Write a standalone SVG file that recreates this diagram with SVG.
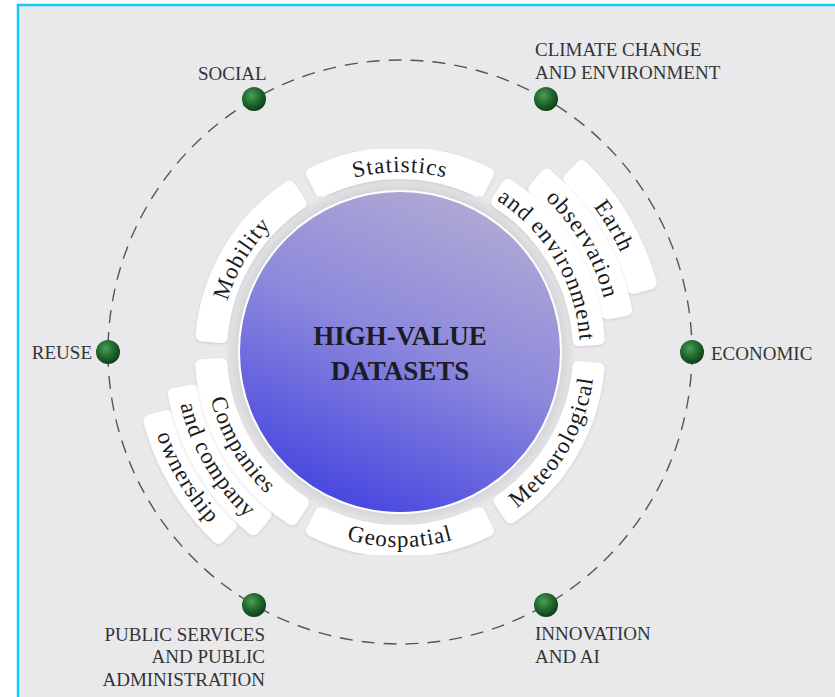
<svg xmlns="http://www.w3.org/2000/svg" width="835" height="697" viewBox="0 0 835 697">
<defs>
<linearGradient id="core" x1="0.68" y1="0.03" x2="0.28" y2="0.97">
<stop offset="0" stop-color="#aea8d4"/>
<stop offset="0.45" stop-color="#8d89dc"/>
<stop offset="1" stop-color="#4646e0"/>
</linearGradient>
<radialGradient id="ring" gradientUnits="userSpaceOnUse" cx="400" cy="352" r="174">
<stop offset="0.9" stop-color="#cfcfd4"/>
<stop offset="1" stop-color="#e6e6e8"/>
</radialGradient>
<radialGradient id="dot" cx="0.4" cy="0.35" r="0.65">
<stop offset="0" stop-color="#4f9d5a"/>
<stop offset="0.5" stop-color="#236f31"/>
<stop offset="1" stop-color="#0f3f19"/>
</radialGradient>
<filter id="sh" x="-10%" y="-10%" width="120%" height="120%">
<feDropShadow dx="0" dy="1" stdDeviation="1.5" flood-color="#000" flood-opacity="0.13"/>
</filter>
<path id="tpStat" d="M244.1,262 A180,180 0 0 1 555.9,262"/>
<path id="tpMob" d="M243.3,440.6 A180,180 0 0 1 401.6,172"/>
<path id="tpEnv" d="M398.4,172 A180,180 0 0 1 556.7,440.6"/>
<path id="tpObs" d="M398.2,141 A211,211 0 0 1 583.7,455.9"/>
<path id="tpEarth" d="M397.9,110 A242,242 0 0 1 610.6,471.2"/>
<path id="tpMet" d="M398.3,547 A195,195 0 0 0 569.7,256"/>
<path id="tpGeo" d="M231.1,449.5 A195,195 0 0 0 568.9,449.5"/>
<path id="tpComp" d="M230.3,256 A195,195 0 0 0 401.7,547"/>
<path id="tpAndC" d="M203.3,240.7 A226,226 0 0 0 402,578"/>
<path id="tpOwn" d="M176.3,225.5 A257,257 0 0 0 402.2,609"/>
</defs>
<style>
.band{fill:#ffffff;stroke:#ffffff;stroke-width:12;stroke-linejoin:round;filter:url(#sh)}
.bt{font-family:"Liberation Serif","Times New Roman",serif;font-size:23px;fill:#1b1b1b;letter-spacing:1px}
.lbl{font-family:"Liberation Serif","Times New Roman",serif;font-size:19px;fill:#343434}
.dot{fill:url(#dot)}
.conn{fill:none;stroke:#555555;stroke-width:1.4;stroke-dasharray:13 9}
</style>
<rect x="0" y="0" width="835" height="697" fill="#ffffff"/>
<rect x="18" y="5" width="817" height="692" fill="#e9e9eb"/>
<line x1="16.8" y1="5" x2="835" y2="5" stroke="#1ac8f4" stroke-width="2.5"/>
<line x1="18" y1="4" x2="18" y2="697" stroke="#1ac8f4" stroke-width="2.5"/>

<g id="connectors">
<circle class="conn" cx="400" cy="352" r="292"/>
</g>

<g id="core-node">
<circle cx="400" cy="352" r="173" fill="url(#ring)"/>
<circle cx="400" cy="352" r="161" fill="url(#core)" stroke="#ffffff" stroke-width="2"/>
<text x="400" y="345" text-anchor="middle" font-family="Liberation Serif, serif" font-weight="bold" font-size="27" fill="#1c1c28">HIGH-VALUE</text>
<text x="400" y="380" text-anchor="middle" font-family="Liberation Serif, serif" font-weight="bold" font-size="27" fill="#1c1c28">DATASETS</text>
</g>

<g id="band-statistics">
<path class="band" d="M312.2,173.4 A199,199 0 0 1 487.8,173.4 L479,191.4 A179,179 0 0 0 321,191.4 Z"/>
<text class="bt"><textPath href="#tpStat" startOffset="50%" text-anchor="middle">Statistics</textPath></text>
</g>
<g id="band-mobility">
<path class="band" d="M201.7,335.3 A199,199 0 0 1 289.2,186.7 L300.4,203.3 A179,179 0 0 0 221.6,337 Z"/>
<text class="bt"><textPath href="#tpMob" startOffset="50%" text-anchor="middle">Mobility</textPath></text>
</g>
<g id="band-earth">
<path class="band" d="M581.8,166.2 A260,260 0 0 1 650.7,283.1 L633.3,287.9 A242,242 0 0 0 569.2,179 Z"/>
<path class="band" d="M546.5,174.7 A230,230 0 0 1 626.1,309.9 L607.4,313.3 A211,211 0 0 0 534.4,189.3 Z"/>
<path class="band" d="M507.9,184.8 A199,199 0 0 1 598.6,338.7 L578.6,340.1 A179,179 0 0 0 497,201.6 Z"/>
<text class="bt"><textPath href="#tpEarth" startOffset="50%" text-anchor="middle">Earth</textPath></text>
<text class="bt"><textPath href="#tpObs" startOffset="50%" text-anchor="middle">observation</textPath></text>
<text class="bt"><textPath href="#tpEnv" startOffset="50%" text-anchor="middle">and environment</textPath></text>
</g>
<g id="band-meteorological">
<path class="band" d="M598.3,368.7 A199,199 0 0 1 510.8,517.3 L499.6,500.7 A179,179 0 0 0 578.4,367 Z"/>
<text class="bt"><textPath href="#tpMet" startOffset="50%" text-anchor="middle">Meteorological</textPath></text>
</g>
<g id="band-geospatial">
<path class="band" d="M487.8,530.6 A199,199 0 0 1 312.2,530.6 L321,512.6 A179,179 0 0 0 479,512.6 Z"/>
<text class="bt"><textPath href="#tpGeo" startOffset="50%" text-anchor="middle">Geospatial</textPath></text>
</g>
<g id="band-companies">
<path class="band" d="M218.2,537.8 A260,260 0 0 1 149.3,420.9 L166.7,416.1 A242,242 0 0 0 230.8,525 Z"/>
<path class="band" d="M253.5,529.3 A230,230 0 0 1 173.9,394.1 L192.6,390.7 A211,211 0 0 0 265.6,514.7 Z"/>
<path class="band" d="M292.1,519.2 A199,199 0 0 1 201.4,365.3 L221.4,363.9 A179,179 0 0 0 303,502.4 Z"/>
<text class="bt"><textPath href="#tpComp" startOffset="50%" text-anchor="middle">Companies</textPath></text>
<text class="bt"><textPath href="#tpAndC" startOffset="50%" text-anchor="middle">and company</textPath></text>
<text class="bt"><textPath href="#tpOwn" startOffset="50%" text-anchor="middle">ownership</textPath></text>
</g>

<g id="node-social">
<circle class="dot" cx="254" cy="99.1" r="12"/>
<text class="lbl" x="198" y="80">SOCIAL</text>
</g>
<g id="node-climate">
<circle class="dot" cx="546" cy="99.1" r="12"/>
<text class="lbl" x="535" y="56">CLIMATE CHANGE</text>
<text class="lbl" x="535" y="79">AND ENVIRONMENT</text>
</g>
<g id="node-reuse">
<circle class="dot" cx="108" cy="352" r="12"/>
<text class="lbl" x="92" y="359" text-anchor="end">REUSE</text>
</g>
<g id="node-economic">
<circle class="dot" cx="692" cy="352" r="12"/>
<text class="lbl" x="711" y="360">ECONOMIC</text>
</g>
<g id="node-public">
<circle class="dot" cx="254" cy="604.9" r="12"/>
<text class="lbl" x="265" y="641" text-anchor="end">PUBLIC SERVICES</text>
<text class="lbl" x="265" y="663" text-anchor="end">AND PUBLIC</text>
<text class="lbl" x="265" y="686" text-anchor="end">ADMINISTRATION</text>
</g>
<g id="node-innovation">
<circle class="dot" cx="546" cy="604.9" r="12"/>
<text class="lbl" x="535" y="640">INNOVATION</text>
<text class="lbl" x="535" y="663">AND AI</text>
</g>
</svg>
